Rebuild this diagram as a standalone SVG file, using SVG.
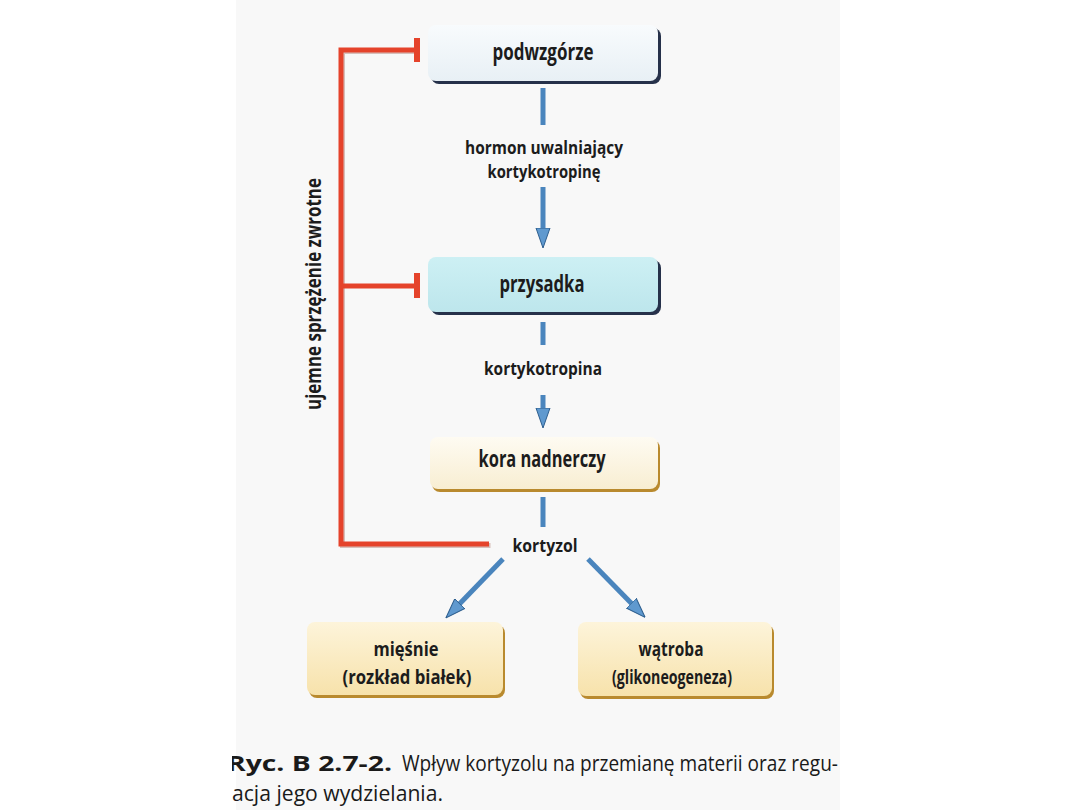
<svg xmlns="http://www.w3.org/2000/svg" width="1080" height="810" viewBox="0 0 1080 810">
  <defs>
    <style>
      .lbl { font-family: "Open Sans", "Liberation Sans", sans-serif; font-weight: 700; fill: #1c1c1c; text-anchor: middle; }
      .node { font-size: 23px; }
      .node2 { font-size: 20px; }
      .edge { font-size: 17px; }
      .cap { font-family: "Open Sans", "Liberation Sans", sans-serif; font-size: 22px; fill: #1a1a1a; }
      .blue { stroke: #4a85bd; stroke-width: 5; fill: none; }
      .red { stroke: #e5432b; stroke-width: 5; fill: none; }
    </style>
    <linearGradient id="gBlueLight" x1="0" y1="0" x2="0" y2="1">
      <stop offset="0" stop-color="#f8fbfd"/>
      <stop offset="1" stop-color="#e8f0f5"/>
    </linearGradient>
    <linearGradient id="gCyan" x1="0" y1="0" x2="0" y2="1">
      <stop offset="0" stop-color="#cdf0f4"/>
      <stop offset="1" stop-color="#bde6ec"/>
    </linearGradient>
    <linearGradient id="gCream" x1="0" y1="0" x2="0" y2="1">
      <stop offset="0" stop-color="#fefbf2"/>
      <stop offset="1" stop-color="#f8eed2"/>
    </linearGradient>
    <linearGradient id="gYellow" x1="0" y1="0" x2="0" y2="1">
      <stop offset="0" stop-color="#fdf4da"/>
      <stop offset="1" stop-color="#f7e2ab"/>
    </linearGradient>
    <marker id="ah" viewBox="0 0 20 16" refX="4" refY="8" markerWidth="20" markerHeight="16" markerUnits="userSpaceOnUse" orient="auto">
      <path d="M0,1 L20,8 L0,15 Z" fill="#5f99cf" stroke="#2d5e8e" stroke-width="1"/>
    </marker>
  </defs>

  <!-- page -->
  <rect x="0" y="0" width="1080" height="810" fill="#ffffff"/>
  <rect x="236" y="0" width="604" height="810" fill="#f8f8f8"/>

  <!-- connectors -->
  <g id="connectors">
    <!-- negative feedback (red) -->
    <path d="M416,51.5 H342.5 V545.5 H490.5" fill="none" stroke="#8a3a2a" stroke-width="5" opacity="0.3"/>
    <path class="red" d="M416,50 H341 V544 H489"/>
    <path class="red" d="M341,286 H416"/>
    <line x1="417" y1="38" x2="417" y2="62" stroke="#e5432b" stroke-width="6"/>
    <line x1="417" y1="273" x2="417" y2="298" stroke="#e5432b" stroke-width="6"/>

    <!-- blue pathway -->
    <line class="blue" x1="543" y1="88" x2="543" y2="125"/>
    <line class="blue" x1="543" y1="187" x2="543" y2="232" marker-end="url(#ah)"/>
    <line class="blue" x1="543" y1="322" x2="543" y2="345"/>
    <line class="blue" x1="543" y1="395" x2="543" y2="412" marker-end="url(#ah)"/>
    <line class="blue" x1="543" y1="497" x2="543" y2="527"/>
    <line class="blue" x1="503" y1="559" x2="457" y2="606.5" marker-end="url(#ah)"/>
    <line class="blue" x1="588" y1="559" x2="634" y2="606" marker-end="url(#ah)"/>

    <!-- connector labels -->
    <text class="lbl edge" x="544" y="154" textLength="158" lengthAdjust="spacingAndGlyphs">hormon uwalniający</text>
    <text class="lbl edge" x="544" y="178" textLength="113" lengthAdjust="spacingAndGlyphs">kortykotropinę</text>
    <text class="lbl edge" x="543" y="375" textLength="118" lengthAdjust="spacingAndGlyphs">kortykotropina</text>
    <text class="lbl edge" x="545" y="552" font-size="19.5" textLength="65" lengthAdjust="spacingAndGlyphs">kortyzol</text>
    <text class="lbl" x="0" y="0" font-size="21" font-weight="600" textLength="232" lengthAdjust="spacingAndGlyphs" transform="translate(321,294) rotate(-90)">ujemne sprzężenie zwrotne</text>
  </g>

  <!-- nodes -->
  <g id="node-podwzgorze">
    <rect x="431" y="28" width="230" height="56" rx="8" fill="#26314a"/>
    <rect x="428" y="25" width="230" height="56" rx="8" fill="url(#gBlueLight)"/>
    <text class="lbl node" x="543" y="60" textLength="101" lengthAdjust="spacingAndGlyphs">podwzgórze</text>
  </g>
  <g id="node-przysadka">
    <rect x="431" y="260" width="230" height="55" rx="8" fill="#26314a"/>
    <rect x="428" y="257" width="230" height="55" rx="8" fill="url(#gCyan)"/>
    <text class="lbl node" x="542" y="292" textLength="85" lengthAdjust="spacingAndGlyphs">przysadka</text>
  </g>
  <g id="node-kora">
    <rect x="432" y="440" width="228" height="52" rx="8" fill="#b98a2e"/>
    <rect x="430" y="437" width="228" height="52" rx="8" fill="url(#gCream)"/>
    <text class="lbl node" x="542" y="467" textLength="127" lengthAdjust="spacingAndGlyphs">kora nadnerczy</text>
  </g>
  <g id="node-miesnie">
    <rect x="309" y="625" width="196" height="73" rx="8" fill="#b98a2e"/>
    <rect x="307" y="622" width="196" height="73" rx="8" fill="url(#gYellow)"/>
    <text class="lbl node2" x="406" y="656" textLength="65" lengthAdjust="spacingAndGlyphs">mięśnie</text>
    <text class="lbl node2" x="407" y="684" textLength="129" lengthAdjust="spacingAndGlyphs">(rozkład białek)</text>
  </g>
  <g id="node-watroba">
    <rect x="580" y="625" width="194" height="74" rx="8" fill="#b98a2e"/>
    <rect x="578" y="622" width="194" height="74" rx="8" fill="url(#gYellow)"/>
    <text class="lbl node2" x="671" y="656" textLength="65" lengthAdjust="spacingAndGlyphs">wątroba</text>
    <text class="lbl node2" x="672" y="684" textLength="120" lengthAdjust="spacingAndGlyphs">(glikoneogeneza)</text>
  </g>

  <!-- caption -->
  <g id="caption">
    <text class="cap" x="227" y="771" font-weight="700" textLength="165" lengthAdjust="spacingAndGlyphs">Ryc. B 2.7-2.</text>
    <text class="cap" x="402" y="771" textLength="436" lengthAdjust="spacingAndGlyphs">Wpływ kortyzolu na przemianę materii oraz regu-</text>
    <text class="cap" x="232" y="801" textLength="211" lengthAdjust="spacingAndGlyphs">acja jego wydzielania.</text>
    <rect x="0" y="740" width="232" height="70" fill="#ffffff"/>
  </g>
</svg>
